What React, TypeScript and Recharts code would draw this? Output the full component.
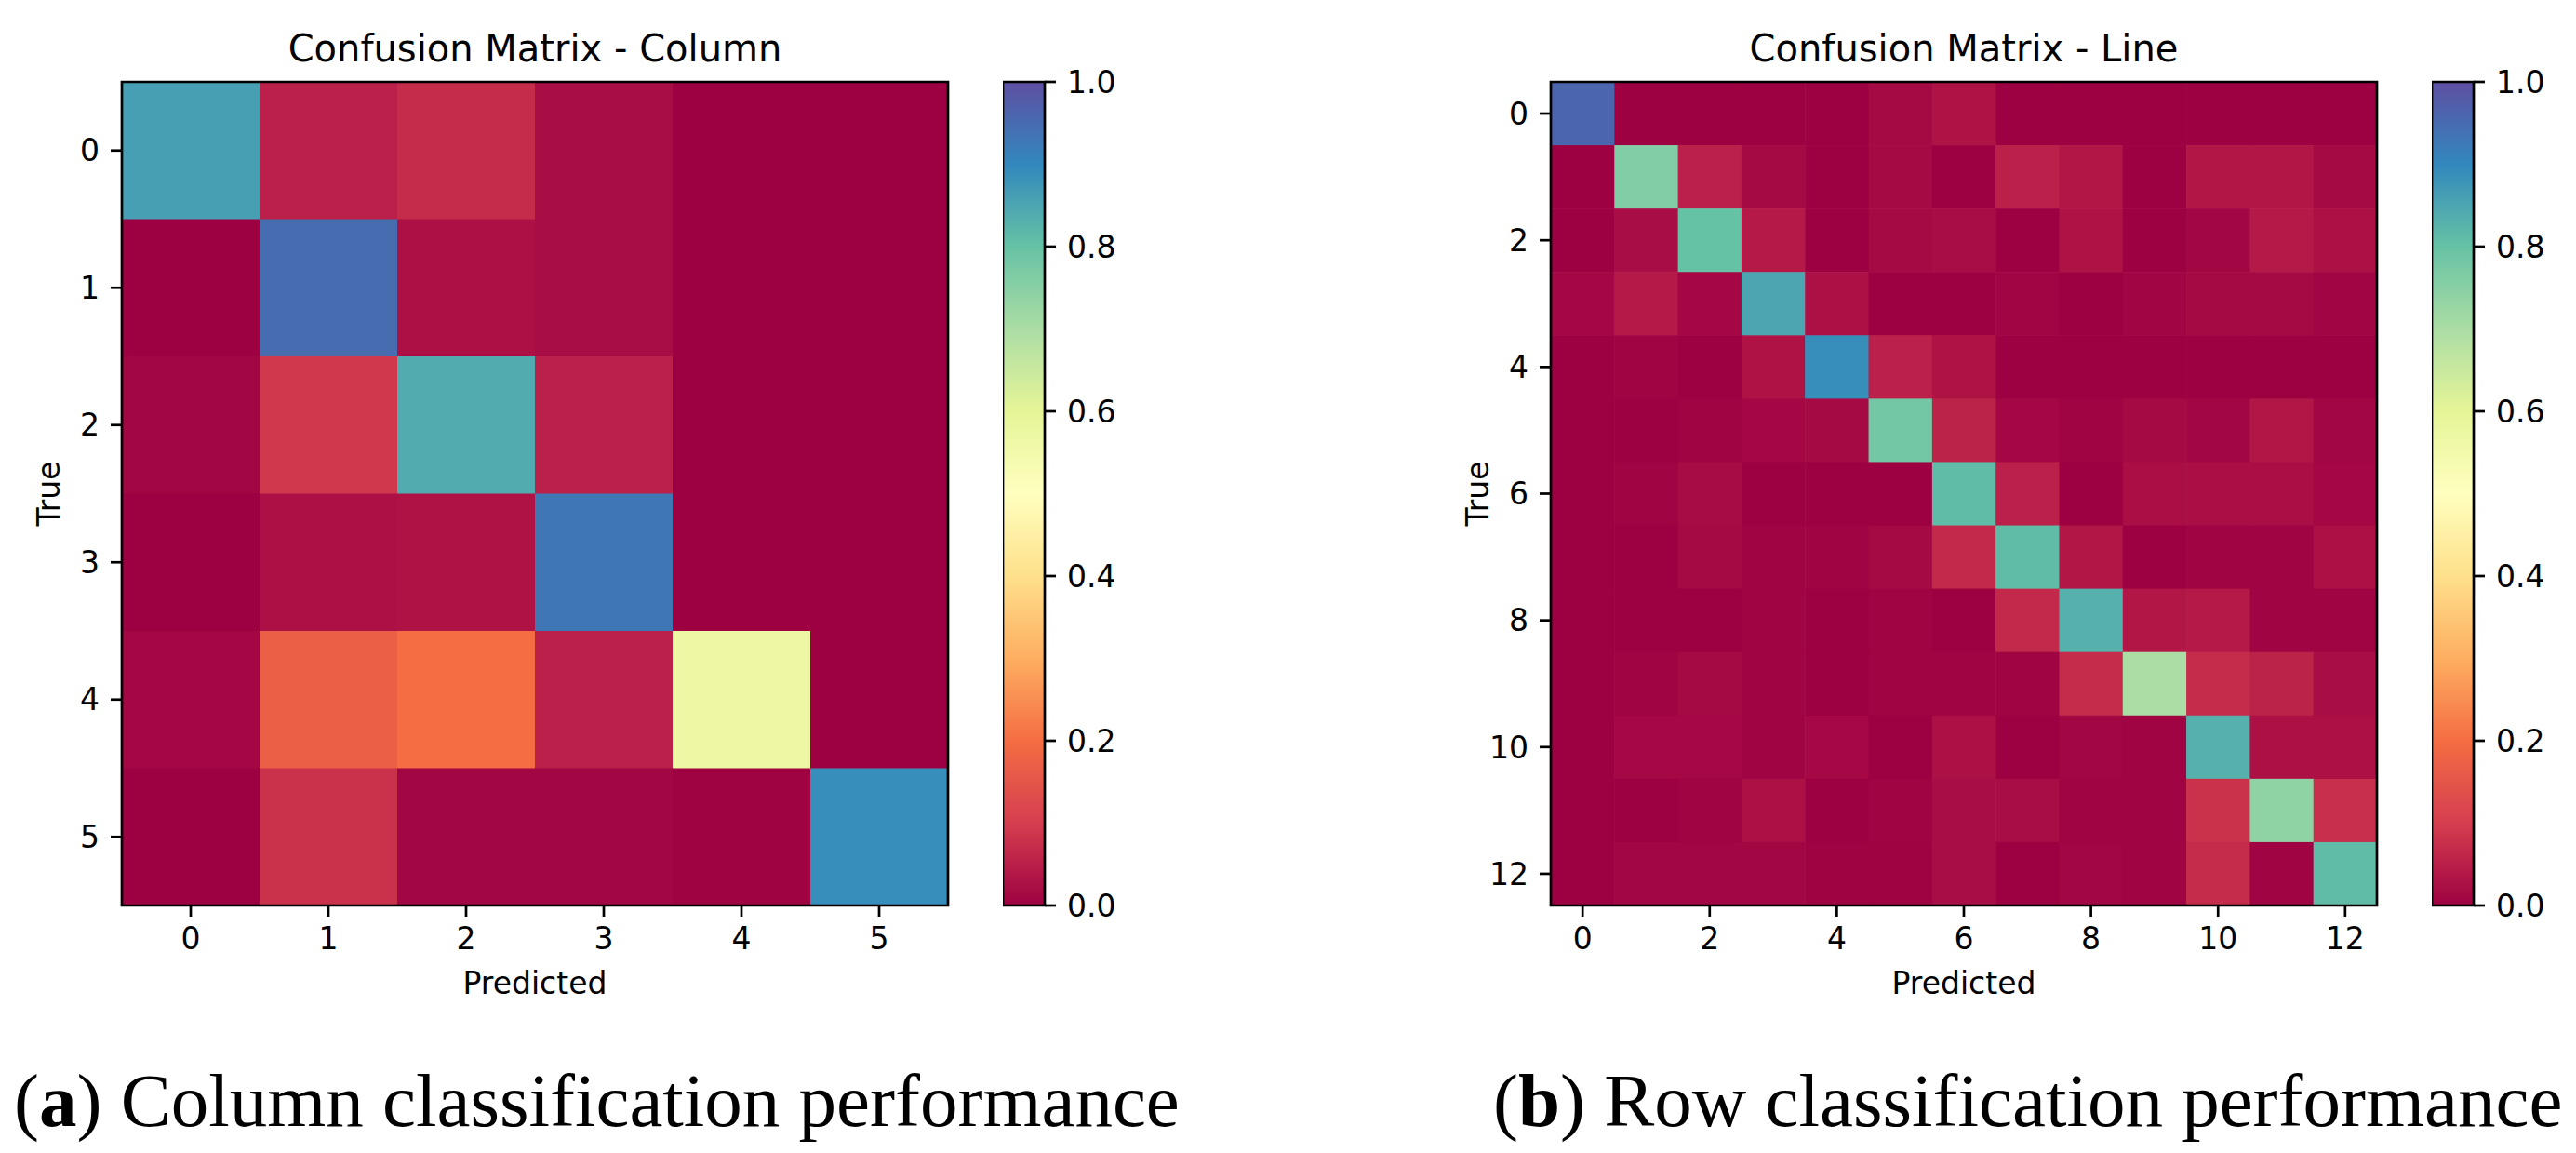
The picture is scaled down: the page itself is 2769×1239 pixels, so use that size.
import { Bar, BarChart, ReferenceArea, Scatter, ScatterChart, XAxis, YAxis } from "recharts";

// row-normalised confusion matrices (rows = true, cols = predicted)
const columnMatrix = [
  [0.86, 0.05, 0.07, 0.02, 0, 0],
  [0, 0.95, 0.025, 0.02, 0, 0],
  [0.008, 0.09, 0.84, 0.05, 0, 0],
  [0, 0.025, 0.03, 0.93, 0, 0],
  [0.01, 0.17, 0.2, 0.05, 0.57, 0],
  [0, 0.08, 0.008, 0.008, 0.003, 0.89],
];

const lineMatrix = [
  [0.96, 0, 0, 0, 0, 0.015, 0.03, 0, 0, 0, 0, 0, 0],
  [0, 0.76, 0.05, 0.015, 0, 0.015, 0, 0.05, 0.035, 0, 0.035, 0.035, 0.015],
  [0, 0.02, 0.8, 0.04, 0, 0.015, 0.02, 0, 0.03, 0, 0.008, 0.04, 0.025],
  [0.01, 0.04, 0.01, 0.85, 0.025, 0, 0, 0.007, 0, 0.007, 0.015, 0.015, 0.007],
  [0, 0.005, 0, 0.03, 0.89, 0.05, 0.03, 0, 0, 0, 0, 0, 0],
  [0, 0, 0.005, 0.01, 0.015, 0.78, 0.055, 0.01, 0.005, 0.015, 0.008, 0.035, 0.008],
  [0, 0.005, 0.018, 0, 0, 0, 0.81, 0.05, 0, 0.022, 0.022, 0.022, 0.01],
  [0, 0, 0.015, 0.005, 0.005, 0.015, 0.065, 0.81, 0.035, 0, 0.005, 0.005, 0.025],
  [0, 0, 0, 0.005, 0, 0.005, 0, 0.065, 0.83, 0.035, 0.04, 0.005, 0.005],
  [0, 0.005, 0.015, 0.005, 0, 0.005, 0.005, 0.005, 0.07, 0.7, 0.07, 0.055, 0.02],
  [0, 0.012, 0.012, 0.005, 0.012, 0, 0.025, 0, 0.008, 0.005, 0.83, 0.025, 0.025],
  [0, 0, 0.005, 0.025, 0, 0.005, 0.02, 0.02, 0.005, 0.005, 0.08, 0.74, 0.075],
  [0, 0.008, 0.008, 0.008, 0.003, 0.003, 0.02, 0, 0.008, 0.005, 0.07, 0.005, 0.81],
];

const columnTicks = [0, 1, 2, 3, 4, 5];
const lineTicks = [0, 2, 4, 6, 8, 10, 12];
const colorbarTicks = [0, 0.2, 0.4, 0.6, 0.8, 1.0];

// matplotlib "Spectral" colormap control points
const SPECTRAL = [
  "#9e0142", "#d53e4f", "#f46d43", "#fdae61", "#fee08b", "#ffffbf",
  "#e6f598", "#abdda4", "#66c2a5", "#3288bd", "#5e4fa2",
];

const FONT = "'DejaVu Sans', sans-serif";
const INK = "#000";
const LW = 2.7;

const hex = (h: string) => [1, 3, 5].map((i) => parseInt(h.slice(i, i + 2), 16));

const spectral = (v: number) => {
  const t = Math.max(0, Math.min(1, v)) * (SPECTRAL.length - 1);
  const i = Math.min(Math.floor(t), SPECTRAL.length - 2);
  const f = t - i;
  const a = hex(SPECTRAL[i]);
  const b = hex(SPECTRAL[i + 1]);
  const c = a.map((x, k) => Math.round(x + (b[k] - x) * f));
  return `rgb(${c[0]},${c[1]},${c[2]})`;
};

const W = 1060;
const H = 1100;
const MARGIN = { top: 88, right: 41, left: 71, bottom: 27 };
const Y_AXIS_W = 60;
const X_AXIS_H = 100;

const tickStyle = { fill: INK, fontSize: 33, fontFamily: FONT };

const Heatmap = ({
  matrix,
  ticks,
  title,
  left,
}: {
  matrix: number[][];
  ticks: number[];
  title: string;
  left: number;
}) => {
  const n = matrix.length;
  const plotW = W - MARGIN.left - MARGIN.right - Y_AXIS_W;
  const plotH = H - MARGIN.top - MARGIN.bottom - X_AXIS_H;
  const cw = plotW / n;
  const ch = plotH / n;
  const points = matrix.flatMap((row, r) => row.map((v, c) => ({ x: c, y: r, v })));

  return (
    <div style={{ position: "absolute", left, top: 0 }}>
      <ScatterChart width={W} height={H} margin={MARGIN}>
        <XAxis
          type="number"
          dataKey="x"
          domain={[-0.5, n - 0.5]}
          ticks={ticks}
          interval={0}
          height={X_AXIS_H}
          tickSize={12}
          tickMargin={12}
          axisLine={false}
          tickLine={{ stroke: INK, strokeWidth: LW }}
          tick={tickStyle}
          allowDataOverflow
          label={{ value: "Predicted", position: "insideBottom", offset: 5, ...tickStyle }}
        />
        <YAxis
          type="number"
          dataKey="y"
          reversed
          domain={[-0.5, n - 0.5]}
          ticks={ticks}
          interval={0}
          width={Y_AXIS_W}
          tickSize={12}
          tickMargin={12}
          axisLine={false}
          tickLine={{ stroke: INK, strokeWidth: LW }}
          tick={{ ...tickStyle, textAnchor: "end" }}
          allowDataOverflow
          label={{
            position: "left",
            content: (props: any) => {
              const vb = props.viewBox;
              const x = vb.x - 19;
              const y = vb.y + vb.height / 2;
              return (
                <text
                  x={x}
                  y={y}
                  dy="0.35em"
                  textAnchor="middle"
                  transform={`rotate(-90, ${x}, ${y})`}
                  fill={INK}
                  fontSize={33}
                  fontFamily={FONT}
                >
                  True
                </text>
              );
            },
          }}
        />
        <Scatter
          data={points}
          isAnimationActive={false}
          shape={(p: any) => (
            <rect
              x={p.cx - cw / 2}
              y={p.cy - ch / 2}
              width={cw + 0.6}
              height={ch + 0.6}
              fill={spectral(p.payload.v)}
            />
          )}
        />
        <ReferenceArea
          x1={-0.5}
          x2={n - 0.5}
          y1={-0.5}
          y2={n - 0.5}
          fill="none"
          stroke={INK}
          strokeWidth={LW}
          ifOverflow="visible"
          zIndex={1500}
        />
        <text
          x={MARGIN.left + Y_AXIS_W + plotW / 2}
          y={66}
          textAnchor="middle"
          fill={INK}
          fontSize={40}
          fontFamily={FONT}
        >
          {title}
        </text>
      </ScatterChart>
    </div>
  );
};

const Colorbar = ({ left, id }: { left: number; id: string }) => (
  <div style={{ position: "absolute", left, top: 0 }}>
    <BarChart
      width={160}
      height={H}
      data={[{ name: "cb", v: 1 }]}
      margin={{ top: MARGIN.top, right: 15, left: 0, bottom: H - MARGIN.top - 885 }}
      barCategoryGap={0}
      barGap={0}
    >
      <defs>
        <linearGradient id={id} x1="0" y1="1" x2="0" y2="0">
          {SPECTRAL.map((c, i) => (
            <stop key={c} offset={`${i * 10}%`} stopColor={c} />
          ))}
        </linearGradient>
      </defs>
      <XAxis dataKey="name" hide />
      <YAxis
        orientation="right"
        type="number"
        domain={[0, 1]}
        ticks={colorbarTicks}
        interval={0}
        width={100}
        tickSize={12}
        tickMargin={12}
        axisLine={false}
        tickLine={{ stroke: INK, strokeWidth: LW }}
        tick={tickStyle}
        tickFormatter={(v: number) => v.toFixed(1)}
      />
      <Bar dataKey="v" fill={`url(#${id})`} stroke={INK} strokeWidth={LW} isAnimationActive={false} />
    </BarChart>
  </div>
);

const captionStyle = {
  position: "absolute" as const,
  top: 1143,
  fontFamily: "'Liberation Serif', serif",
  fontSize: 81,
  lineHeight: 1,
  whiteSpace: "nowrap" as const,
  color: "#000",
};

export default function App() {
  return (
    <div style={{ position: "relative", width: 2769, height: 1239, background: "#fff", overflow: "hidden" }}>
      <style>{"body{margin:0}"}</style>
      <Heatmap matrix={columnMatrix} ticks={columnTicks} title="Confusion Matrix - Column" left={0} />
      <Colorbar left={1078} id="spectral-a" />
      <Heatmap matrix={lineMatrix} ticks={lineTicks} title="Confusion Matrix - Line" left={1536} />
      <Colorbar left={2614} id="spectral-b" />
      <div style={{ ...captionStyle, left: 15 }}>
        (<b>a</b>) Column classification performance
      </div>
      <div style={{ ...captionStyle, left: 1605 }}>
        (<b>b</b>) Row classification performance
      </div>
    </div>
  );
}
